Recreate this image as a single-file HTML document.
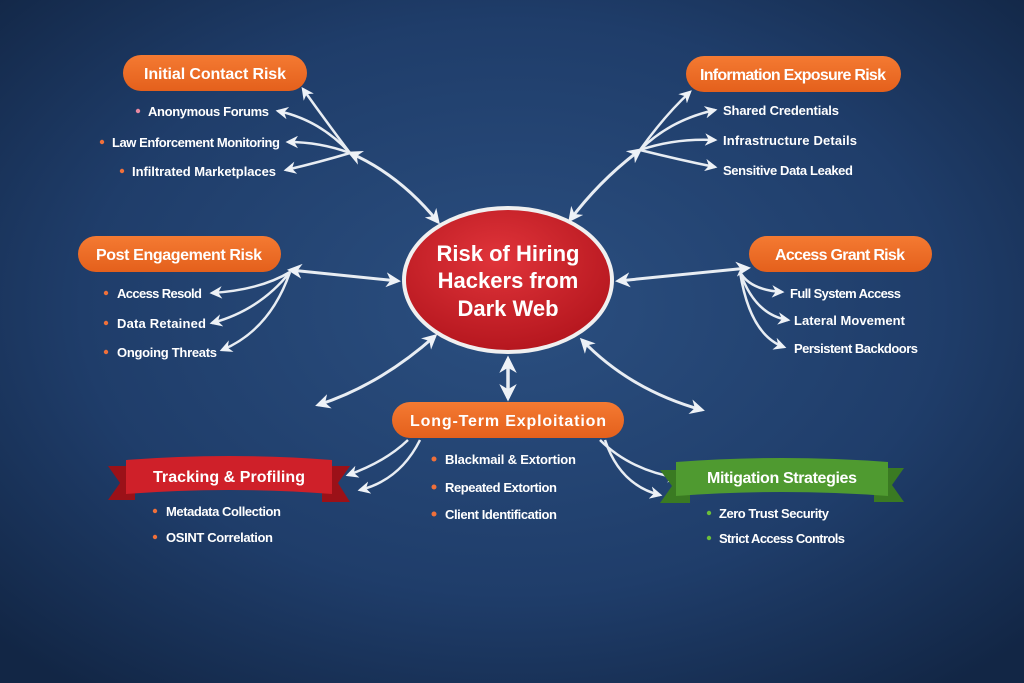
<!DOCTYPE html>
<html><head><meta charset="utf-8"><style>
html,body{margin:0;padding:0;width:1024px;height:683px;overflow:hidden;background:#1b3460}
svg{display:block}
text{font-family:"Liberation Sans",sans-serif;fill:#fff}
.b{font-size:13px;font-weight:bold}
.h{font-size:16px;font-weight:bold}
</style></head><body>
<svg width="1024" height="683" viewBox="0 0 1024 683" xmlns="http://www.w3.org/2000/svg">
<defs>
<radialGradient id="bg" cx="50%" cy="45%" r="70%">
<stop offset="0" stop-color="#2b4f80"/><stop offset="0.6" stop-color="#1f3d6a"/><stop offset="1" stop-color="#122645"/>
</radialGradient>
<radialGradient id="red" cx="45%" cy="35%" r="70%">
<stop offset="0" stop-color="#e0343a"/><stop offset="1" stop-color="#b3151d"/>
</radialGradient>
<linearGradient id="or" x1="0" y1="0" x2="0" y2="1"><stop offset="0" stop-color="#f47a32"/><stop offset="1" stop-color="#e4601c"/></linearGradient>
<marker id="a" viewBox="0 0 10 10" refX="8" refY="5" markerWidth="5" markerHeight="5" orient="auto-start-reverse"><path d="M0,0 L10,5 L0,10 L3,5z" fill="#eef2f7"/></marker>
</defs>
<rect width="1024" height="683" fill="url(#bg)"/>
<g fill="none" stroke="#e8edf3" stroke-width="2.5" marker-end="url(#a)">
<!-- top-left -->
<path d="M350,153 Q400,175 438,222" marker-start="url(#a)" stroke-width="3"/>
<path d="M350,153 Q325,120 303,89"/>
<path d="M350,153 Q320,120 278,111"/>
<path d="M350,153 Q320,142 288,142"/>
<path d="M350,153 Q320,162 286,170"/>
<!-- top-right -->
<path d="M640,150 Q600,180 570,220" marker-start="url(#a)" stroke-width="3"/>
<path d="M640,150 Q665,115 690,92"/>
<path d="M640,150 Q670,120 715,110"/>
<path d="M640,150 Q675,138 715,140"/>
<path d="M640,150 Q680,160 715,167"/>
<!-- post -->
<path d="M290,270 L398,281" marker-start="url(#a)" stroke-width="3"/>
<path d="M290,272 Q260,290 212,293"/>
<path d="M290,272 Q260,310 212,323"/>
<path d="M290,272 Q270,330 222,350"/>
<!-- access -->
<path d="M618,281 L748,268" marker-start="url(#a)" stroke-width="3"/>
<path d="M740,272 Q750,290 782,292"/>
<path d="M740,272 Q755,315 788,320"/>
<path d="M740,272 Q750,335 784,347"/>
<!-- lower -->
<path d="M435,336 Q380,385 318,405" marker-start="url(#a)" stroke-width="3"/>
<path d="M508,359 L508,398" marker-start="url(#a)" stroke-width="3.5"/>
<path d="M582,340 Q630,390 702,410" marker-start="url(#a)" stroke-width="3"/>
<path d="M408,440 Q385,462 348,475"/>
<path d="M420,440 Q400,480 360,490"/>
<path d="M600,440 Q630,470 678,478"/>
<path d="M605,440 Q620,485 660,495"/>
</g>
<!-- center -->
<ellipse cx="508" cy="280" rx="106" ry="74" fill="#f0f0f0"/>
<ellipse cx="508" cy="280" rx="102" ry="70" fill="url(#red)"/>
<text x="508" y="261" text-anchor="middle" font-size="22" font-weight="bold">Risk of Hiring</text>
<text x="508" y="288" text-anchor="middle" font-size="22" font-weight="bold">Hackers from</text>
<text x="508" y="316" text-anchor="middle" font-size="22" font-weight="bold">Dark Web</text>
<!-- pills -->
<rect x="123" y="55" width="184" height="36" rx="18" fill="url(#or)"/>
<text x="215" y="79" text-anchor="middle" class="h" textLength="142">Initial Contact Risk</text>
<rect x="686" y="56" width="215" height="36" rx="18" fill="url(#or)"/>
<text x="793" y="80" text-anchor="middle" class="h" textLength="186">Information Exposure Risk</text>
<rect x="78" y="236" width="203" height="36" rx="18" fill="url(#or)"/>
<text x="179" y="260" text-anchor="middle" class="h" textLength="166">Post Engagement Risk</text>
<rect x="749" y="236" width="183" height="36" rx="18" fill="url(#or)"/>
<text x="840" y="260" text-anchor="middle" class="h" textLength="130">Access Grant Risk</text>
<rect x="392" y="402" width="232" height="36" rx="18" fill="url(#or)"/>
<text x="508" y="426" text-anchor="middle" class="h" textLength="196">Long-Term Exploitation</text>
<!-- ribbons -->
<polygon points="108,466 135,466 135,500 108,500 120,483" fill="#9b1118"/>
<polygon points="322,466 350,466 338,483 350,502 322,502" fill="#9b1118"/>
<path d="M126,460 Q229,452 332,460 L332,494 Q229,486 126,494z" fill="#cf2029"/>
<text x="229" y="482" text-anchor="middle" class="h" textLength="152">Tracking &amp; Profiling</text>
<polygon points="660,470 690,470 690,503 660,503 672,486" fill="#3a7a22"/>
<polygon points="874,468 904,468 892,485 904,502 874,502" fill="#3a7a22"/>
<path d="M676,462 Q782,454 888,462 L888,496 Q782,488 676,496z" fill="#4f9a30"/>
<text x="782" y="483" text-anchor="middle" class="h" textLength="150">Mitigation Strategies</text>
<!-- bullets -->
<g class="b">
<text x="148" y="116" textLength="121">Anonymous Forums</text>
<text x="112" y="147" textLength="168">Law Enforcement Monitoring</text>
<text x="132" y="176" textLength="144">Infiltrated Marketplaces</text>
<text x="723" y="115" textLength="116">Shared Credentials</text>
<text x="723" y="145" textLength="134">Infrastructure Details</text>
<text x="723" y="175" textLength="130">Sensitive Data Leaked</text>
<text x="117" y="298" textLength="85">Access Resold</text>
<text x="117" y="328" textLength="89">Data Retained</text>
<text x="117" y="357" textLength="100">Ongoing Threats</text>
<text x="790" y="298" textLength="111">Full System Access</text>
<text x="794" y="325" textLength="111">Lateral Movement</text>
<text x="794" y="353" textLength="124">Persistent Backdoors</text>
<text x="445" y="464" textLength="131">Blackmail &amp; Extortion</text>
<text x="445" y="492" textLength="112">Repeated Extortion</text>
<text x="445" y="519" textLength="112">Client Identification</text>
<text x="166" y="516" textLength="115">Metadata Collection</text>
<text x="166" y="542" textLength="107">OSINT Correlation</text>
<text x="719" y="518" textLength="110">Zero Trust Security</text>
<text x="719" y="543" textLength="126">Strict Access Controls</text>
</g>
<g fill="#f0703a">
<circle cx="138" cy="111" r="2.2" fill="#e889a0"/><circle cx="102" cy="142" r="2.2"/><circle cx="122" cy="171" r="2.2"/>
<circle cx="106" cy="293" r="2.2"/><circle cx="106" cy="323" r="2.2"/><circle cx="106" cy="352" r="2.2"/>
<circle cx="434" cy="459" r="2.5"/><circle cx="434" cy="487" r="2.5"/><circle cx="434" cy="514" r="2.5"/>
<circle cx="155" cy="511" r="2.2"/><circle cx="155" cy="537" r="2.2"/>
<circle cx="709" cy="513" r="2.2" fill="#6cbf3a"/><circle cx="709" cy="538" r="2.2" fill="#6cbf3a"/>
</g>
</svg>
</body></html>
